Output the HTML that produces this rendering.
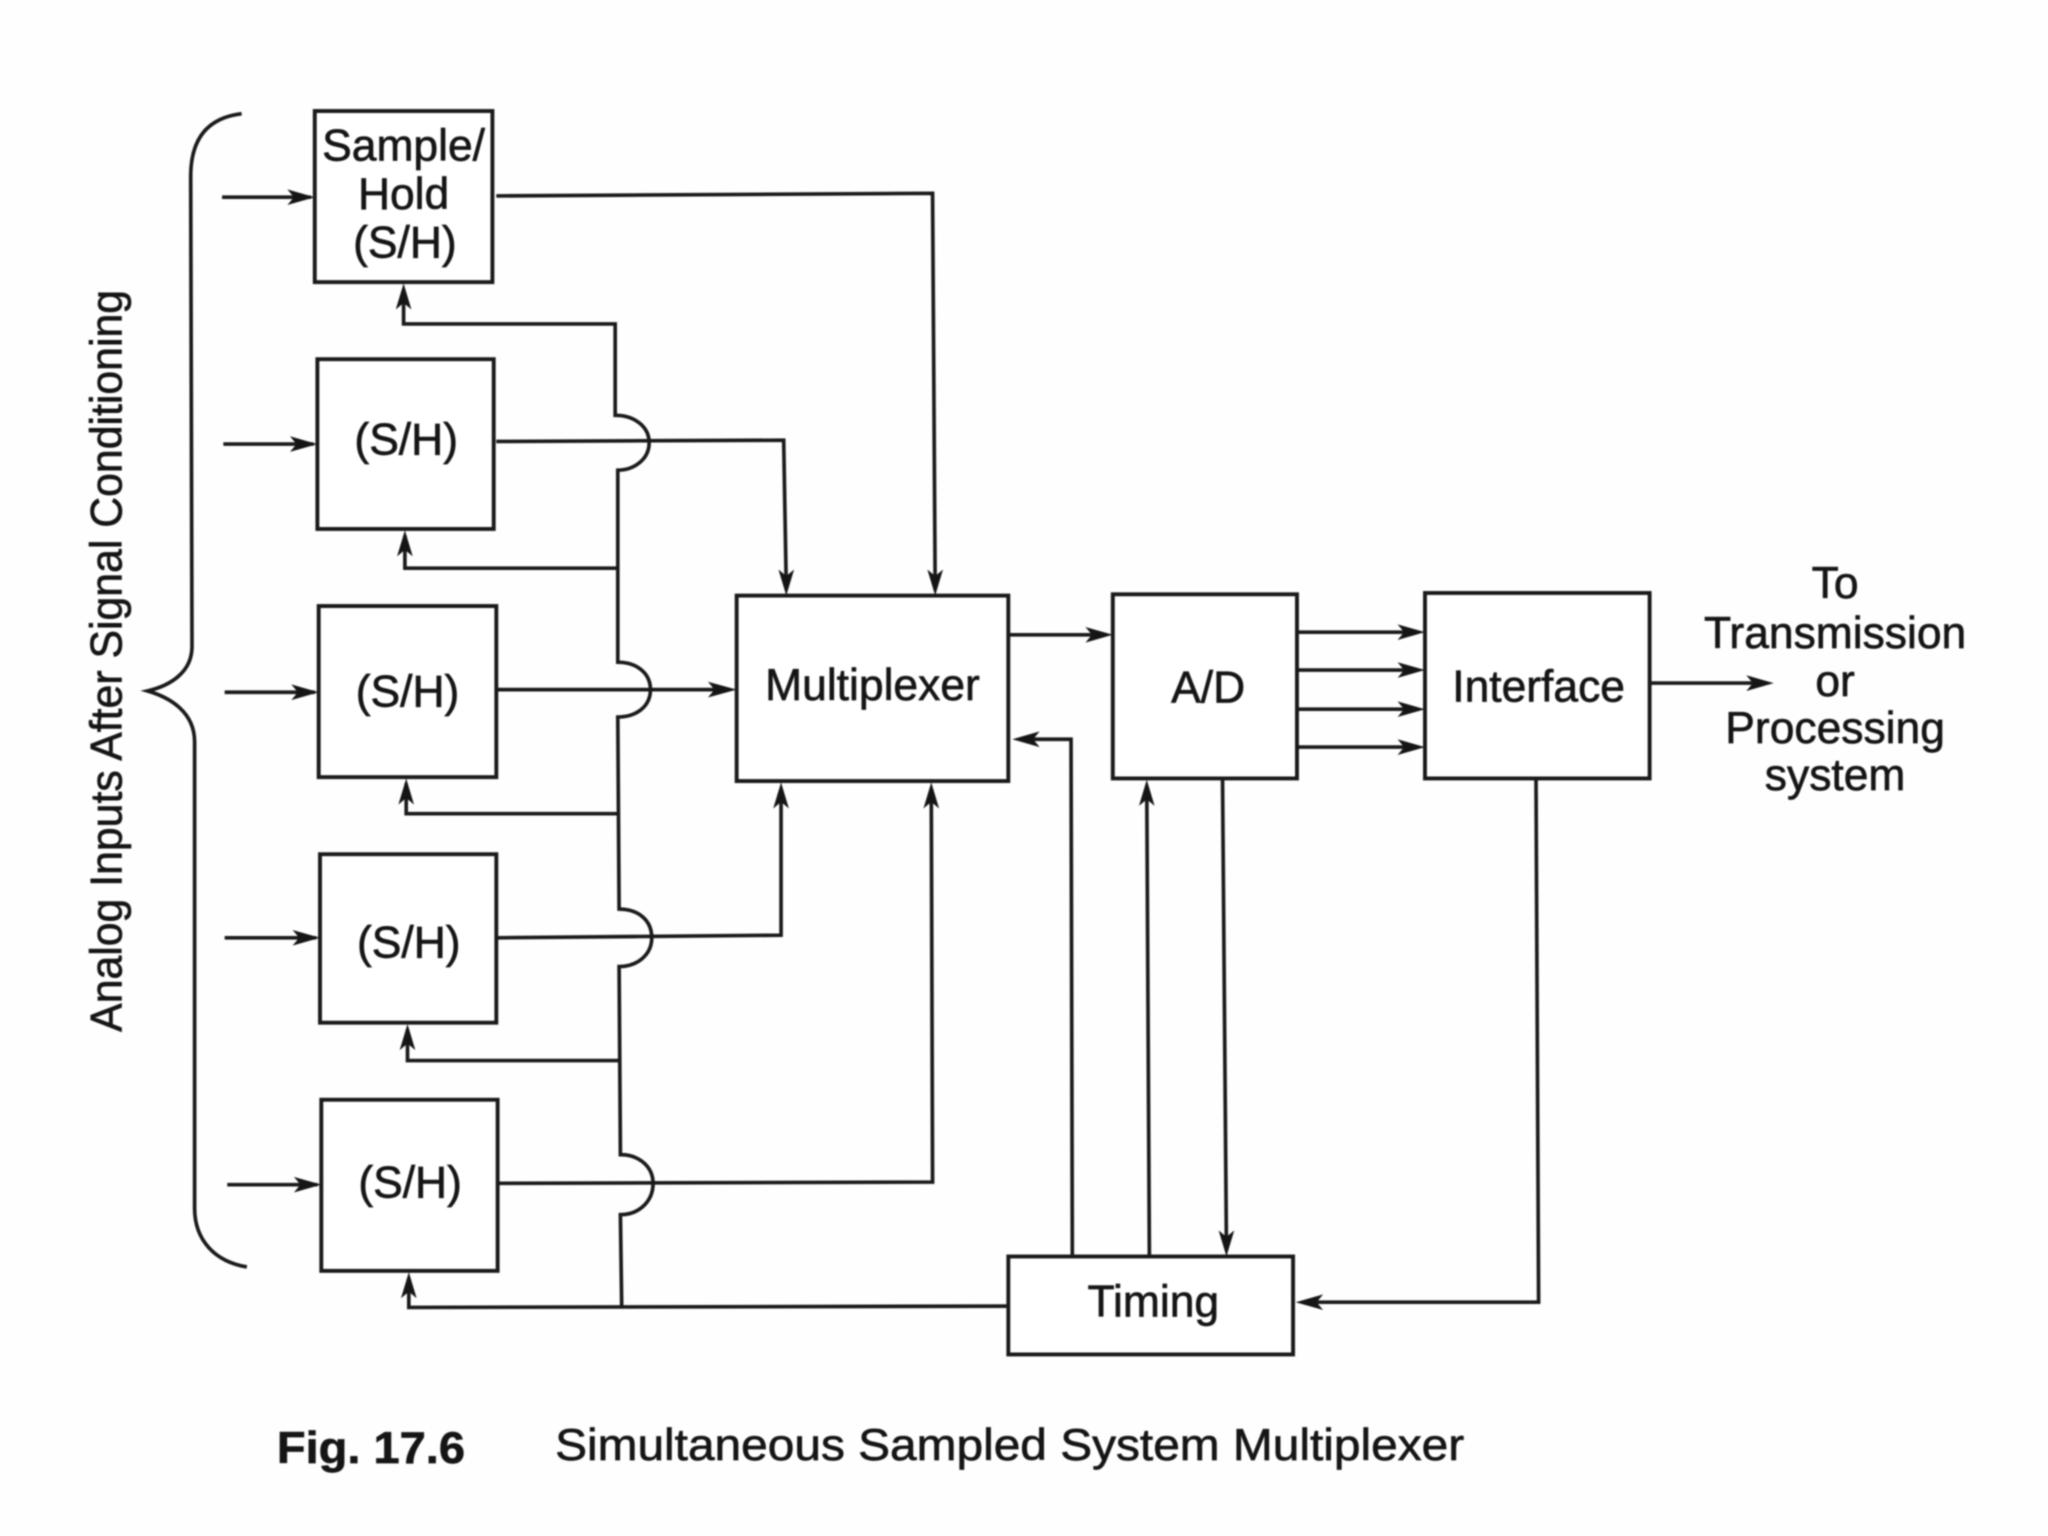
<!DOCTYPE html>
<html>
<head>
<meta charset="utf-8">
<style>
html,body{margin:0;padding:0;background:#fff;width:2048px;height:1536px;overflow:hidden}
svg{display:block;filter:blur(.8px)}
text{font-family:"Liberation Sans",sans-serif;font-size:34px;fill:#151515;stroke:#151515;stroke-width:.5;text-anchor:middle}
.l{fill:none;stroke:#1a1a1a;stroke-width:2.8}
.b{fill:#fff;stroke:#1a1a1a;stroke-width:3}
.a{fill:#151515;stroke:none}
</style>
</head>
<body>
<svg width="2048" height="1536" viewBox="0 0 1568 1176" xmlns="http://www.w3.org/2000/svg">
<rect width="1568" height="1176" fill="#fefefe"/>

<!-- brace -->
<path class="l" d="M185 87 C160 90 146 105 146 135 L147 495 C147 515 130 525 113 529 C130 534 149 545 149 568 L149 925 C149 950 165 966 189 970"/>

<!-- bus with humps -->
<path class="l" d="M309 222 L309 248 L471 248 L471 318 C485 318 497 326 497 339 C497 352 485 360 473 360 L473 507 C487 507 498 515 498 528 C498 541 487 549 473 549 L474 696 C488 696 499 704 499 718 C499 731 488 740 474 740 L475 884 C489 884 500 893 500 906 C500 920 489 930 475 930 L476 1001"/>
<path class="l" d="M772 1000 L313 1001 L313 979"/>
<path class="l" d="M310 410 L310 435 L472 435"/>
<path class="l" d="M311 600 L311 623 L473 623"/>
<path class="l" d="M312 788 L312 812 L474 812"/>

<!-- inputs -->
<path class="l" d="M170 151 L238 151"/>
<path class="l" d="M171 340 L240 340"/>
<path class="l" d="M172 530 L241 530"/>
<path class="l" d="M172 718 L242 718"/>
<path class="l" d="M174 907 L243 907"/>

<!-- S/H outputs -->
<path class="l" d="M380 150 L714 148 L716 450"/>
<path class="l" d="M380 338 L600 337 L602 450"/>
<path class="l" d="M380 528 L558 528"/>
<path class="l" d="M381 718 L598 716 L598 604"/>
<path class="l" d="M381 906 L714 905 L713 604"/>

<!-- right side -->
<path class="l" d="M773 486 L846 486"/>
<path class="l" d="M821 962 L820 566 L782 566"/>
<path class="l" d="M880 962 L878 604"/>
<path class="l" d="M936 596 L939 956"/>
<path class="l" d="M993 484 L1085 484"/>
<path class="l" d="M993 513 L1085 513"/>
<path class="l" d="M993 543 L1085 543"/>
<path class="l" d="M993 572 L1085 572"/>
<path class="l" d="M1263 523 L1350 523"/>
<path class="l" d="M1176 596 L1178 997 L998 997"/>

<!-- boxes -->
<rect class="b" x="241" y="85" width="136" height="131"/>
<rect class="b" x="243" y="275" width="135" height="130"/>
<rect class="b" x="244" y="464" width="136" height="131"/>
<rect class="b" x="245" y="654" width="135" height="129"/>
<rect class="b" x="246" y="842" width="135" height="131"/>
<rect class="b" x="564" y="456" width="208" height="142"/>
<rect class="b" x="852" y="455" width="141" height="141"/>
<rect class="b" x="1091" y="454" width="172" height="142"/>
<rect class="b" x="772" y="962" width="218" height="75"/>

<!-- arrowheads: right -->
<path class="a" d="M241 151 L220 145 L225 151 L220 157Z"/>
<path class="a" d="M243 340 L222 334 L227 340 L222 346Z"/>
<path class="a" d="M244 530 L223 524 L228 530 L223 536Z"/>
<path class="a" d="M245 718 L224 712 L229 718 L224 724Z"/>
<path class="a" d="M246 907 L225 901 L230 907 L225 913Z"/>
<path class="a" d="M564 528 L542 522 L547 528 L542 534Z"/>
<path class="a" d="M852 486 L831 480 L836 486 L831 492Z"/>
<path class="a" d="M1091 484 L1070 478 L1075 484 L1070 490Z"/>
<path class="a" d="M1091 513 L1070 507 L1075 513 L1070 519Z"/>
<path class="a" d="M1091 543 L1070 537 L1075 543 L1070 549Z"/>
<path class="a" d="M1091 572 L1070 566 L1075 572 L1070 578Z"/>
<path class="a" d="M1358 523 L1337 517 L1342 523 L1337 529Z"/>
<!-- arrowheads: left -->
<path class="a" d="M775 566 L796 560 L791 566 L796 572Z"/>
<path class="a" d="M992 997 L1013 991 L1008 997 L1013 1003Z"/>
<!-- arrowheads: up -->
<path class="a" d="M309 217 L303 237 L309 232 L315 237Z"/>
<path class="a" d="M310 406 L304 426 L310 421 L316 426Z"/>
<path class="a" d="M311 596 L305 616 L311 611 L317 616Z"/>
<path class="a" d="M312 784 L306 804 L312 799 L318 804Z"/>
<path class="a" d="M313 974 L307 994 L313 989 L319 994Z"/>
<path class="a" d="M598 599 L592 619 L598 614 L604 619Z"/>
<path class="a" d="M713 599 L707 619 L713 614 L719 619Z"/>
<path class="a" d="M878 597 L872 617 L878 612 L884 617Z"/>
<!-- arrowheads: down -->
<path class="a" d="M602 456 L596 436 L602 441 L608 436Z"/>
<path class="a" d="M716 456 L710 436 L716 441 L722 436Z"/>
<path class="a" d="M939 962 L933 942 L939 947 L945 942Z"/>

<!-- labels -->
<text x="309" y="123">Sample/</text>
<text x="309" y="160">Hold</text>
<text x="310" y="197">(S/H)</text>
<text x="311" y="348">(S/H)</text>
<text x="312" y="541">(S/H)</text>
<text x="313" y="733">(S/H)</text>
<text x="314" y="917">(S/H)</text>
<text x="668" y="536">Multiplexer</text>
<text x="925" y="538">A/D</text>
<text x="1178" y="537">Interface</text>
<text x="883" y="1008">Timing</text>
<text x="1405" y="458">To</text>
<text x="1405" y="496">Transmission</text>
<text x="1405" y="533">or</text>
<text x="1405" y="569">Processing</text>
<text x="1405" y="605">system</text>
<text transform="translate(93 506) rotate(-90)" textLength="568" lengthAdjust="spacingAndGlyphs">Analog Inputs After Signal Conditioning</text>
<text x="284" y="1120" style="font-weight:bold" textLength="144" lengthAdjust="spacingAndGlyphs">Fig. 17.6</text>
<text x="773" y="1118" textLength="696" lengthAdjust="spacingAndGlyphs">Simultaneous Sampled System Multiplexer</text>
</svg>
</body>
</html>
